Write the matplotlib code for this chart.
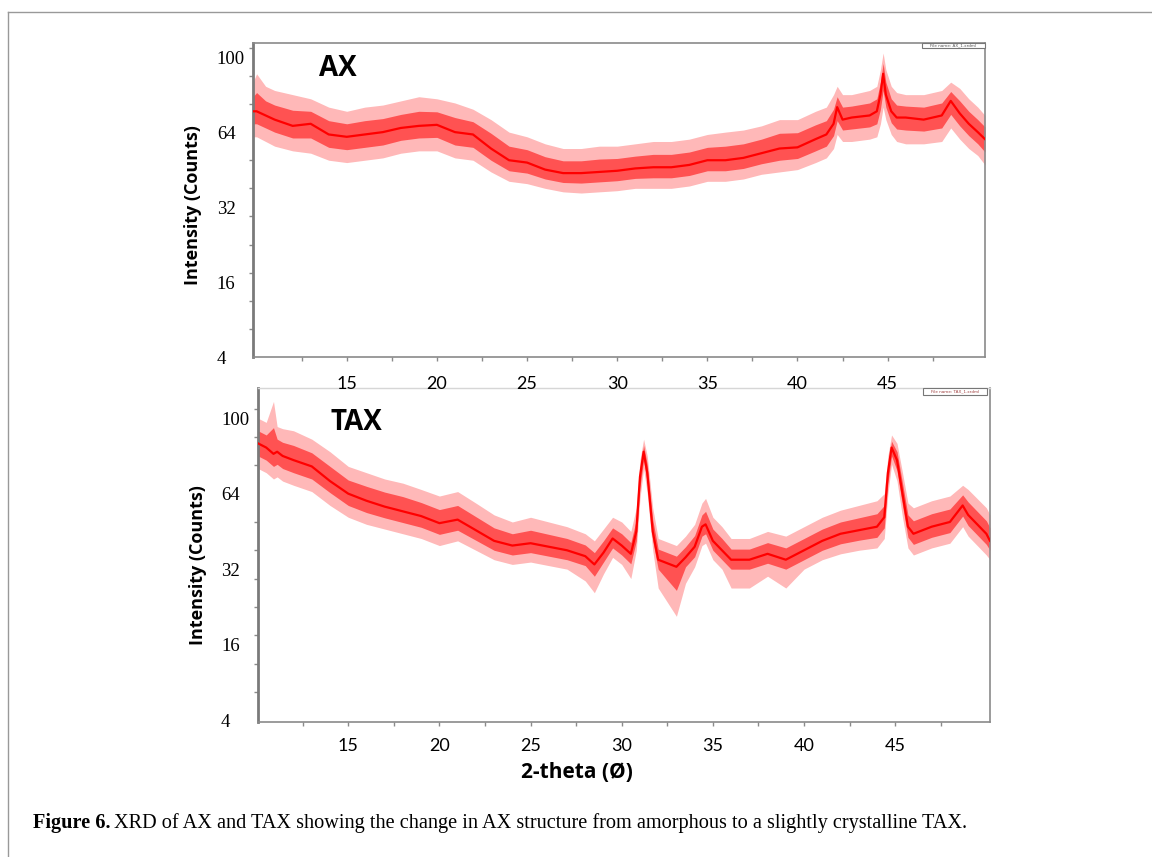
import numpy as np
import matplotlib
matplotlib.use("Agg")
import matplotlib.pyplot as plt
from matplotlib.lines import Line2D
from matplotlib.patches import Rectangle

# ---------------- data ----------------
Y_TICKS = [4, 16, 32, 64, 100]
X_TICKS = [15, 20, 25, 30, 35, 40, 45]

ax_x = [9.8, 10.0, 10.5, 11, 12, 13, 14, 15, 16, 17, 18, 19, 20, 21, 22, 23, 24, 25,
        26, 27, 28, 29, 30, 31, 32, 33, 34, 35, 36, 37, 38, 39, 40, 41, 41.6, 42.0,
        42.2, 42.5, 43, 44, 44.4, 44.6, 44.75, 44.9, 45.2, 45.5, 46, 47, 48, 48.5,
        49, 49.5, 50, 50.4]
ax_mid = [74, 74, 72, 70, 67, 68, 63, 62, 63, 64, 66, 67, 67.5, 64, 63, 57, 52, 51,
          48, 46.5, 46.5, 47, 47.5, 48.5, 49, 49, 50, 52, 52, 53, 55, 57, 57.5, 61, 63, 68,
          76, 70, 71, 72, 74, 82, 92, 82, 74, 71, 71, 70, 72, 79,
          73, 68, 64, 61]
ax_hi = [88, 92, 86, 84, 82, 80, 76, 74, 76, 77, 79, 81, 80, 78, 75, 70, 64, 62,
         59, 57, 57, 58, 58, 59, 60, 60, 61, 63, 64, 65, 67, 70, 70, 74, 76, 82,
         86, 82, 82, 84, 86, 94, 102, 94, 86, 83, 82, 82, 84, 88,
         85, 80, 76, 72]
ax_lo = [62, 62, 60, 58, 56, 55, 52, 51, 52, 53, 55, 56, 56, 53, 52, 47, 43, 42,
         40, 38.5, 38, 38.5, 39, 40, 40, 40, 41, 43, 43, 44, 46, 47, 48, 51, 53, 57,
         63, 60, 60, 61, 62, 68, 76, 70, 63, 60, 59, 59, 60, 66,
         61, 57, 54, 50]

tax_x = [10.05, 10.5, 10.9, 11.1, 11.4, 12, 13, 14, 15, 16, 17, 18, 19, 20, 21, 22,
         23, 24, 25, 26, 27, 28, 28.5, 29, 29.5, 30, 30.5, 30.8, 31.0, 31.2, 31.4,
         31.7, 32, 33, 33.5, 34, 34.4, 34.6, 35, 35.5, 36, 37, 38, 39, 40, 41, 42,
         43, 44, 44.4, 44.6, 44.8, 45.1, 45.4, 45.7, 46, 47, 48, 48.7, 49, 50, 50.2]
tax_mid = [88, 86, 83, 84, 82, 80, 77, 70, 64, 61, 58.5, 56.5, 54.5, 51.5, 53, 48.5,
           44, 42, 43, 41.5, 40, 37.5, 34, 39, 45, 42, 38.5, 48, 72, 84, 74,
           48, 36, 33, 37, 41.5, 50, 51, 44, 40, 36, 36, 38.5, 36, 40, 44, 47,
           48.5, 50, 54, 74, 86, 80, 64, 50, 47, 50, 52, 59, 55, 47, 44]
tax_hi = [100, 98, 108, 96, 95, 94, 90, 84, 77, 74, 71, 69, 66, 63, 65, 60,
          55, 52, 54, 52, 50, 47, 44, 49, 54, 52, 48, 58, 80, 90, 82,
          58, 45, 42, 46, 51, 60, 62, 54, 50, 45, 45, 48, 46, 50, 54, 57,
          59, 61, 64, 82, 92, 88, 74, 60, 58, 61, 63, 68, 66, 58, 55]
tax_lo = [76, 74, 71, 72, 70, 68, 65, 59, 54, 51, 49, 47, 45, 42, 44, 40,
          36, 34, 35, 33.5, 32, 29.5, 27, 31, 37, 34, 30, 40, 62, 76, 64,
          40, 28, 22, 29, 33, 42, 43, 36, 32, 28, 28, 30.5, 28, 32, 36, 38.5,
          40, 41, 45, 64, 78, 70, 54, 41, 38, 41, 43, 50, 46, 38, 36]

# ---------------- figure ----------------
W, H = 1152, 857
fig = plt.figure(figsize=(W / 100, H / 100), dpi=100)
fig.patch.set_facecolor("white")


def px_axes(l, t, r, b):
    return fig.add_axes([l / W, 1 - b / H, (r - l) / W, (b - t) / H])


KNOT_V = [-8, 4, 16, 32, 64, 100, 136]
KNOT_P = [-1, 0, 1, 2, 3, 4, 5]


def fwd(v):
    return np.interp(v, KNOT_V, KNOT_P)


def inv(p):
    return np.interp(p, KNOT_P, KNOT_V)


ax1 = px_axes(253, 43, 985, 357)
ax2 = px_axes(258, 388, 990, 722)
ax1.set_zorder(3)
ax2.set_zorder(2)

SPINE = "#8a8a8a"


def draw_trace(ax, x, mid, lo, hi):
    x = np.asarray(x, float)
    mid = np.asarray(mid, float)
    lo = np.asarray(lo, float)
    hi = np.asarray(hi, float)
    ax.fill_between(x, lo, hi, color="#ffb8b8", lw=0, zorder=1)
    ax.fill_between(x, mid - 0.5 * (mid - lo), mid + 0.5 * (hi - mid),
                    color="#ff3030", alpha=0.75, lw=0, zorder=2)
    ax.plot(x, mid, color="#ff0000", lw=1.6, zorder=3)


def style(ax, xlim, ylim, ypad, xpad):
    ax.set_yscale("function", functions=(fwd, inv))
    ax.set_xlim(*xlim)
    ax.set_ylim(*ylim)
    ax.set_yticks(Y_TICKS)
    ax.set_yticklabels([str(v) for v in Y_TICKS], fontfamily="Liberation Serif",
                       fontsize=13.5)
    for tl in ax.get_yticklabels():
        tl.set_horizontalalignment("left")
    ax.tick_params(axis="y", which="major", length=0, pad=ypad, colors="black")
    ax.set_yticks(inv(np.arange(0.375, 4.3, 0.375)), minor=True)
    ax.tick_params(axis="y", which="minor", length=3, width=1, color=SPINE,
                   direction="out")
    ax.set_xticks(X_TICKS)
    ax.set_xticklabels([str(v) for v in X_TICKS], fontfamily="Lato", fontsize=13)
    ax.set_xticks(np.arange(12.5, 50, 2.5), minor=True)
    ax.tick_params(axis="x", which="both", length=3, width=1, color=SPINE,
                   direction="out")
    ax.tick_params(axis="x", which="major", pad=xpad)
    for s in ax.spines.values():
        s.set_color(SPINE)
        s.set_linewidth(1.2)
    ax.spines["left"].set_linewidth(2)
    ax.spines["left"].set_color("#7a7a7a")


draw_trace(ax1, ax_x, ax_mid, ax_lo, ax_hi)
draw_trace(ax2, tax_x, tax_mid, tax_lo, tax_hi)

style(ax1, (9.8, 50.4), (4, 106.8), ypad=26.0, xpad=11)
style(ax2, (10.05, 50.2), (3.7, 114.4), ypad=26.6, xpad=8.5)
ax2.spines["top"].set_color("#d6d6d6")
ax2.spines["top"].set_linewidth(1.0)

# panel titles
ax1.text(0.116, 0.920, "AX", transform=ax1.transAxes, ha="center", va="center",
         fontfamily="Open Sans", fontweight="bold", fontsize=20)
ax2.text(0.135, 0.898, "TAX", transform=ax2.transAxes, ha="center", va="center",
         fontfamily="Open Sans", fontweight="bold", fontsize=20)

# y labels
fig.text(193 / W, 1 - 205 / H, "Intensity (Counts)", rotation=90, ha="center",
         va="center", fontfamily="Open Sans", fontweight="bold", fontsize=13)
fig.text(198 / W, 1 - 565 / H, "Intensity (Counts)", rotation=90, ha="center",
         va="center", fontfamily="Open Sans", fontweight="bold", fontsize=13)

# x label
fig.text(577 / W, 1 - 773 / H, "2-theta (Ø)", ha="center", va="center",
         fontfamily="Open Sans", fontweight="bold", fontsize=15)

# tiny legend boxes
for (l, t, r, b, txt, col) in [(922, 43, 985, 48, "File name: AX_1.xrdml", "#555555"),
                               (923, 388, 987, 395, "File name: TAX_1.xrdml", "#a04040")]:
    fig.add_artist(Rectangle((l / W, 1 - b / H), (r - l) / W, (b - t) / H,
                             transform=fig.transFigure, facecolor="white",
                             edgecolor="#777777", lw=0.8, zorder=5))
    fig.text((l + r) / 2 / W, 1 - (t + b) / 2 / H, txt, ha="center", va="center",
             fontsize=3, color=col, zorder=6)

# outer frame
fig.add_artist(Line2D([8 / W, 8 / W], [0, 1 - 12 / H], transform=fig.transFigure,
                      color="#999999", lw=1))
fig.add_artist(Line2D([8 / W, 1], [1 - 12 / H, 1 - 12 / H], transform=fig.transFigure,
                      color="#999999", lw=1))

# caption
fig.canvas.draw()
r = fig.canvas.get_renderer()
t1 = fig.text(33 / W, 1 - 823 / H, "Figure 6.", ha="left", va="center",
              fontfamily="Liberation Serif", fontweight="bold", fontsize=14.6)
bb = t1.get_window_extent(renderer=r)
fig.text((bb.x1 + 4) / W, 1 - 823 / H,
         "XRD of AX and TAX showing the change in AX structure from amorphous to a slightly crystalline TAX.",
         ha="left", va="center", fontfamily="Liberation Serif", fontsize=14.6)

fig.savefig("out.png", dpi=100, facecolor="white")
